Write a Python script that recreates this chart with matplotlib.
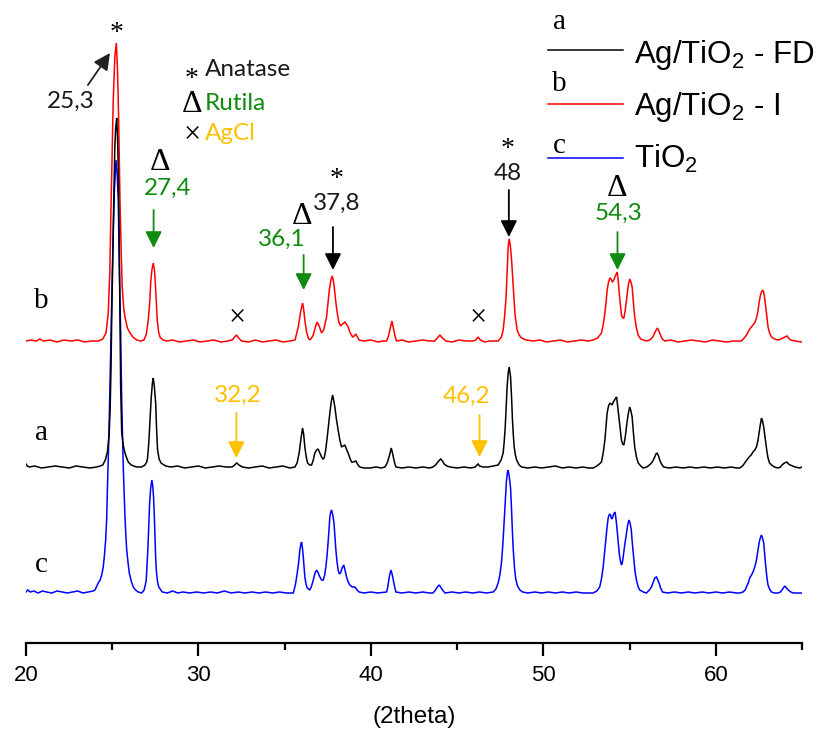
import matplotlib
matplotlib.use("Agg")
import matplotlib.pyplot as plt
from matplotlib.lines import Line2D

plt.rcParams['mathtext.fontset'] = 'custom'
plt.rcParams['mathtext.rm'] = 'Liberation Sans'
plt.rcParams['mathtext.it'] = 'Liberation Sans:italic'
plt.rcParams['mathtext.bf'] = 'Liberation Sans:bold'
plt.rcParams['font.family'] = ['Liberation Sans', 'DejaVu Sans']

# ---------------------------------------------------------------------------
# XRD patterns: (2theta, intensity above the pattern's own baseline)
# ---------------------------------------------------------------------------
pattern_b = [  # Ag/TiO2 - I
    (20.0, 1), (20.3, 2), (20.6, 1), (20.8, 3), (21.0, 1), (21.4, 2), (21.8, 0),
    (22.2, 2), (22.6, 1), (23.0, 2), (23.4, 0), (23.8, 1), (24.2, 1), (24.45, 3),
    (24.64, 9), (24.77, 29), (24.86, 70), (24.93, 135), (25.0, 190), (25.06, 242),
    (25.15, 285), (25.24, 299), (25.31, 270), (25.37, 225), (25.45, 142),
    (25.52, 90), (25.58, 55), (25.66, 35), (25.74, 25), (25.88, 14), (26.03, 9),
    (26.2, 5), (26.42, 2), (26.65, 1), (26.84, 2), (26.98, 8), (27.09, 22),
    (27.17, 38), (27.23, 59), (27.3, 72), (27.38, 79), (27.45, 72), (27.5, 59),
    (27.56, 38), (27.61, 22), (27.69, 10), (27.77, 5), (27.95, 2), (28.16, 1),
    (28.5, 2), (28.9, 0), (29.3, 1), (29.7, 2), (30.1, 0), (30.5, 1), (30.9, 2),
    (31.3, 0), (31.7, 1), (31.95, 2), (32.1, 5), (32.2, 7), (32.33, 4), (32.5, 1),
    (32.9, 0), (33.3, 2), (33.7, 0), (34.1, 1), (34.5, 2), (34.9, 0), (35.3, 1),
    (35.6, 2), (35.79, 15), (35.92, 30), (36.04, 39), (36.1, 33), (36.17, 22),
    (36.27, 10), (36.37, 4), (36.46, 2), (36.56, 4), (36.66, 7), (36.78, 15),
    (36.89, 20), (37.0, 16), (37.14, 9), (37.26, 12), (37.43, 25), (37.52, 40),
    (37.59, 52), (37.68, 62), (37.76, 66), (37.84, 60), (37.91, 49), (37.98, 38),
    (38.05, 29), (38.14, 20), (38.24, 16), (38.36, 18), (38.49, 20), (38.58, 18),
    (38.68, 15), (38.8, 9), (38.94, 5), (39.03, 6), (39.13, 8), (39.22, 5),
    (39.32, 2), (39.6, 1), (40.0, 2), (40.4, 0), (40.7, 1), (40.91, 1), (41.02, 6),
    (41.1, 12), (41.22, 21), (41.33, 12), (41.41, 5), (41.49, 1), (41.8, 2),
    (42.2, 0), (42.6, 1), (43.0, 2), (43.4, 1), (43.7, 1), (43.85, 4), (44.0, 7),
    (44.15, 4), (44.35, 1), (44.7, 0), (45.1, 2), (45.5, 1), (45.9, 1), (46.08, 2),
    (46.22, 5), (46.35, 2), (46.6, 0), (46.9, 1), (47.2, 1), (47.38, 1), (47.57, 5),
    (47.67, 12), (47.75, 25), (47.83, 42), (47.9, 72), (47.96, 95), (48.02, 103),
    (48.09, 96), (48.16, 82), (48.26, 55), (48.35, 29), (48.48, 12), (48.6, 7),
    (48.74, 4), (49.0, 2), (49.4, 1), (49.8, 2), (50.2, 0), (50.6, 1), (51.0, 2),
    (51.4, 0), (51.8, 1), (52.2, 2), (52.6, 1), (52.89, 2), (53.15, 4), (53.37, 9),
    (53.47, 17), (53.57, 29), (53.64, 40), (53.7, 52), (53.78, 60), (53.86, 64),
    (53.93, 63), (53.99, 60), (54.06, 61), (54.13, 64), (54.2, 67), (54.28, 70),
    (54.34, 62), (54.4, 49), (54.47, 37), (54.53, 27), (54.6, 24), (54.67, 24),
    (54.75, 32), (54.82, 42), (54.92, 56), (55.01, 63), (55.08, 60), (55.15, 55),
    (55.22, 40), (55.3, 25), (55.4, 14), (55.5, 7), (55.65, 3), (55.79, 2),
    (56.0, 1), (56.17, 2), (56.35, 5), (56.46, 9), (56.54, 12), (56.62, 14),
    (56.7, 11), (56.79, 7), (56.9, 3), (57.04, 1), (57.4, 2), (57.8, 0), (58.2, 1),
    (58.6, 2), (59.0, 1), (59.4, 0), (59.8, 2), (60.2, 1), (60.6, 0), (61.0, 1),
    (61.3, 1), (61.49, 1), (61.65, 4), (61.78, 7), (61.97, 13), (62.16, 17),
    (62.28, 20), (62.36, 24), (62.44, 30), (62.51, 39), (62.58, 46), (62.65, 50),
    (62.72, 52), (62.78, 50), (62.84, 43), (62.9, 35), (62.97, 24), (63.03, 15),
    (63.12, 9), (63.23, 5), (63.4, 3), (63.61, 2), (63.78, 3), (63.9, 4),
    (64.02, 5), (64.13, 6), (64.23, 4), (64.33, 2), (64.6, 1), (65.0, 0),
]

pattern_a = [  # Ag/TiO2 - FD
    (20.0, 4), (20.08, 2), (20.2, 1), (20.5, 2), (20.9, 0), (21.3, 1), (21.7, 2),
    (22.1, 1), (22.5, 0), (22.9, 2), (23.3, 1), (23.7, 0), (24.1, 1), (24.3, 2),
    (24.45, 3), (24.6, 8), (24.72, 16), (24.82, 33), (24.88, 60), (24.93, 100),
    (24.97, 150), (25.02, 200), (25.08, 260), (25.15, 320), (25.2, 340),
    (25.26, 350), (25.31, 330), (25.36, 290), (25.41, 220), (25.45, 150),
    (25.49, 80), (25.55, 35), (25.65, 22), (25.74, 15), (25.84, 10), (25.93, 6),
    (26.1, 3), (26.4, 1), (26.7, 1), (26.9, 3), (27.0, 6), (27.05, 10),
    (27.12, 25), (27.19, 48), (27.26, 70), (27.33, 85), (27.38, 90), (27.44, 82),
    (27.52, 65), (27.57, 40), (27.63, 18), (27.72, 9), (27.83, 5), (28.1, 2),
    (28.4, 1), (28.8, 2), (29.2, 0), (29.6, 1), (30.0, 2), (30.4, 0), (30.8, 1),
    (31.2, 2), (31.6, 1), (31.95, 1), (32.1, 3), (32.22, 5), (32.35, 3),
    (32.55, 1), (32.9, 0), (33.3, 1), (33.7, 2), (34.1, 0), (34.5, 1), (34.9, 2),
    (35.3, 0), (35.59, 1), (35.72, 5), (35.84, 15), (35.95, 30), (36.04, 40),
    (36.1, 34), (36.17, 21), (36.25, 11), (36.33, 5), (36.45, 3), (36.56, 3),
    (36.66, 8), (36.75, 15), (36.85, 18), (36.94, 19), (37.04, 15), (37.14, 11),
    (37.22, 9), (37.29, 10), (37.38, 18), (37.47, 31), (37.55, 44), (37.62, 55),
    (37.7, 66), (37.78, 73), (37.84, 68), (37.91, 61), (38.0, 49), (38.1, 38),
    (38.2, 28), (38.3, 21), (38.4, 22), (38.49, 23), (38.58, 19), (38.68, 15),
    (38.78, 10), (38.88, 6), (39.0, 6), (39.13, 7), (39.25, 3), (39.36, 1),
    (39.6, 0), (39.94, 0), (40.3, 1), (40.6, 0), (40.81, 1), (40.92, 4), (41.0, 8),
    (41.1, 14), (41.18, 20), (41.24, 16), (41.3, 11), (41.38, 5), (41.45, 1),
    (41.8, 0), (42.2, 1), (42.6, 0), (43.0, 1), (43.4, 0), (43.6, 1), (43.75, 3),
    (43.88, 6), (44.04, 9), (44.15, 7), (44.25, 4), (44.4, 2), (44.6, 1),
    (45.0, 0), (45.4, 1), (45.8, 0), (46.05, 1), (46.15, 3), (46.22, 4),
    (46.3, 2), (46.5, 1), (46.8, 1), (47.1, 2), (47.38, 3), (47.55, 8),
    (47.67, 15), (47.73, 26), (47.79, 41), (47.85, 62), (47.9, 81), (47.96, 95),
    (48.02, 101), (48.1, 91), (48.16, 70), (48.21, 48), (48.26, 33), (48.31, 21),
    (48.38, 13), (48.45, 8), (48.6, 3), (48.74, 1), (49.1, 0), (49.5, 1),
    (49.9, 0), (50.3, 1), (50.7, 2), (51.1, 0), (51.5, 1), (51.9, 0), (52.3, 1),
    (52.6, 0), (52.89, 0), (53.1, 2), (53.25, 4), (53.37, 6), (53.47, 15),
    (53.57, 28), (53.64, 42), (53.7, 55), (53.78, 62), (53.86, 65), (53.93, 64),
    (53.99, 63), (54.06, 66), (54.13, 68), (54.2, 70), (54.25, 71), (54.32, 60),
    (54.4, 48), (54.47, 36), (54.53, 28), (54.6, 24), (54.67, 23), (54.75, 31),
    (54.82, 41), (54.92, 54), (55.01, 61), (55.08, 57), (55.15, 51), (55.22, 36),
    (55.3, 21), (55.4, 11), (55.5, 5), (55.65, 2), (55.79, 0), (56.0, 1),
    (56.15, 3), (56.27, 5), (56.38, 8), (56.46, 11), (56.53, 14), (56.6, 15),
    (56.68, 12), (56.75, 8), (56.85, 4), (56.98, 1), (57.3, 0), (57.7, 1),
    (58.1, 0), (58.5, 1), (58.9, 0), (59.3, 1), (59.7, 0), (60.1, 1), (60.5, 0),
    (60.9, 1), (61.2, 0), (61.39, 0), (61.55, 2), (61.68, 5), (61.8, 8),
    (61.93, 11), (62.05, 13), (62.16, 16), (62.26, 18), (62.36, 21), (62.44, 27),
    (62.51, 35), (62.58, 43), (62.65, 50), (62.71, 47), (62.78, 41), (62.84, 33),
    (62.9, 25), (62.97, 16), (63.03, 10), (63.12, 5), (63.23, 3), (63.4, 1),
    (63.61, 0), (63.75, 1), (63.84, 3), (63.98, 5), (64.12, 6), (64.22, 4),
    (64.32, 3), (64.45, 2), (64.6, 1), (64.87, 0), (65.0, 1),
]

pattern_c = [  # TiO2
    (20.0, 1), (20.1, 3), (20.25, 1), (20.45, 2), (20.7, 0), (20.95, 2), (21.2, 1),
    (21.5, 0), (21.8, 2), (22.1, 1), (22.4, 0), (22.7, 1), (23.0, 2), (23.3, 0),
    (23.6, 1), (23.9, 2), (24.0, 3), (24.19, 10), (24.3, 13), (24.39, 18),
    (24.48, 26), (24.55, 38), (24.62, 53), (24.68, 75), (24.73, 110), (24.78, 140),
    (24.83, 176), (24.88, 218), (24.93, 260), (25.0, 315), (25.06, 360),
    (25.13, 405), (25.22, 433), (25.29, 418), (25.35, 393), (25.41, 326),
    (25.49, 260), (25.55, 193), (25.6, 158), (25.64, 126), (25.69, 100),
    (25.74, 76), (25.79, 58), (25.84, 43), (25.92, 30), (25.99, 20), (26.1, 12),
    (26.22, 6), (26.35, 3), (26.51, 1), (26.7, 0), (26.85, 3), (26.97, 12),
    (27.07, 45), (27.17, 90), (27.23, 105), (27.3, 113), (27.35, 107), (27.4, 95),
    (27.44, 78), (27.48, 55), (27.52, 35), (27.57, 20), (27.63, 11), (27.7, 6),
    (27.9, 1), (28.2, 0), (28.5, 2), (28.8, 0), (29.1, 1), (29.5, 0), (29.9, 1),
    (30.3, 0), (30.7, 1), (31.1, 0), (31.5, 2), (31.9, 0), (32.3, 1), (32.7, 0),
    (33.1, 1), (33.5, 0), (33.9, 1), (34.3, 0), (34.7, 1), (35.1, 0), (35.5, 0),
    (35.62, 8), (35.73, 20), (35.82, 32), (35.88, 43), (35.94, 49), (35.98, 51),
    (36.03, 45), (36.08, 36), (36.13, 25), (36.17, 16), (36.24, 9), (36.31, 5),
    (36.46, 3), (36.56, 7), (36.66, 13), (36.76, 20), (36.85, 23), (36.95, 20),
    (37.04, 16), (37.14, 13), (37.24, 13), (37.32, 18), (37.39, 26), (37.46, 38),
    (37.53, 53), (37.58, 66), (37.62, 76), (37.67, 81), (37.72, 83), (37.79, 78),
    (37.86, 70), (37.92, 56), (37.97, 43), (38.03, 32), (38.1, 23), (38.17, 19),
    (38.24, 20), (38.33, 25), (38.43, 28), (38.51, 22), (38.59, 16), (38.68, 11),
    (38.78, 8), (38.92, 6), (39.07, 6), (39.2, 3), (39.32, 1), (39.6, 0),
    (40.0, 1), (40.4, 0), (40.91, 1), (40.97, 5), (41.04, 13), (41.1, 19),
    (41.16, 23), (41.23, 19), (41.3, 13), (41.38, 6), (41.45, 1), (41.8, 0),
    (42.2, 1), (42.6, 0), (43.0, 1), (43.4, 0), (43.6, 0), (43.75, 3), (43.85, 6),
    (43.96, 8), (44.05, 6), (44.15, 3), (44.3, 0), (44.7, 1), (45.1, 0), (45.5, 1),
    (45.9, 0), (46.3, 1), (46.7, 0), (47.09, 1), (47.25, 4), (47.38, 10),
    (47.48, 18), (47.57, 30), (47.65, 48), (47.72, 70), (47.79, 92), (47.86, 112),
    (47.92, 121), (47.96, 123), (48.02, 117), (48.1, 105), (48.16, 82), (48.21, 60),
    (48.26, 42), (48.33, 25), (48.4, 14), (48.5, 7), (48.64, 3), (48.8, 1),
    (49.1, 0), (49.5, 1), (49.9, 0), (50.3, 1), (50.7, 0), (51.1, 1), (51.5, 0),
    (51.9, 1), (52.3, 0), (52.7, 0), (52.89, 0), (53.1, 2), (53.27, 6),
    (53.37, 14), (53.47, 26), (53.55, 40), (53.62, 53), (53.69, 65), (53.76, 75),
    (53.83, 79), (53.9, 78), (53.96, 74), (54.01, 75), (54.08, 79), (54.16, 81),
    (54.22, 73), (54.28, 63), (54.34, 51), (54.4, 40), (54.47, 32), (54.53, 28),
    (54.58, 30), (54.63, 36), (54.72, 48), (54.82, 60), (54.9, 69), (54.97, 73),
    (55.03, 70), (55.1, 63), (55.17, 48), (55.25, 33), (55.32, 21), (55.4, 13),
    (55.5, 6), (55.59, 3), (55.8, 1), (55.98, 0), (56.15, 3), (56.27, 6),
    (56.38, 11), (56.46, 15), (56.56, 16), (56.64, 13), (56.71, 10), (56.8, 5),
    (56.91, 1), (57.2, 0), (57.6, 1), (58.0, 0), (58.4, 1), (58.8, 0), (59.2, 1),
    (59.6, 0), (60.0, 1), (60.4, 0), (60.8, 1), (61.2, 0), (61.39, 0), (61.58, 1),
    (61.7, 3), (61.78, 6), (61.88, 10), (61.97, 15), (62.07, 18), (62.16, 21),
    (62.26, 26), (62.36, 33), (62.44, 42), (62.51, 50), (62.58, 55), (62.65, 58),
    (62.71, 55), (62.78, 50), (62.84, 38), (62.9, 26), (62.97, 15), (63.03, 8),
    (63.12, 4), (63.23, 1), (63.4, 0), (63.61, 0), (63.75, 1), (63.84, 3),
    (63.92, 5), (64.0, 7), (64.1, 5), (64.2, 3), (64.35, 1), (64.5, 0),
    (64.87, 0), (65.0, 0),
]

series_letters = ['b', 'c', 'a']
series_colors = {'a': 'black', 'b': '#ff0000', 'c': '#0000ff'}
series_offsets = {'a': 125, 'b': 251, 'c': 0}
series_names = {'a': r'Ag/TiO$_\mathrm{2}$ - FD',
                'b': r'Ag/TiO$_\mathrm{2}$ - I',
                'c': r'TiO$_\mathrm{2}$'}
patterns = {'a': pattern_a, 'b': pattern_b, 'c': pattern_c}

# labelled reflections
peak_labels = ['25,3', '27,4', '36,1', '37,8', '48', '54,3', '32,2', '46,2']
peak_positions = [25.3, 27.4, 36.1, 37.8, 48.0, 54.3, 32.2, 46.2]

GREEN = '#108a10'
ORANGE = '#ffc000'
W, H = 829, 733

fig = plt.figure(figsize=(W / 100, H / 100), dpi=100)
ax = fig.add_axes([26 / W, 1 - 643 / H, 776 / W, 643 / H])
ax.set_xlim(20, 65)
ax.set_ylim(-50, 593)
for side in ('left', 'right', 'top'):
    ax.spines[side].set_visible(False)
ax.spines['bottom'].set_linewidth(1.6)
ax.set_yticks([])
ax.set_xticks([20, 30, 40, 50, 60])
ax.set_xticks([25, 35, 45, 55, 65], minor=True)
ax.tick_params(axis='x', which='major', length=9.5, width=1.6, pad=6,
               labelsize=16, direction='out')
ax.tick_params(axis='x', which='minor', length=5, width=1.6, direction='out')
ax.set_xlabel('(2theta)', fontsize=17.5, labelpad=15)

for key in series_letters:
    xs = [p[0] for p in patterns[key]]
    ys = [p[1] + series_offsets[key] for p in patterns[key]]
    ax.plot(xs, ys, color=series_colors[key], lw=1.1, solid_joinstyle='miter')

SERIF = ['Liberation Serif', 'DejaVu Serif']
CAL = ['Lato', 'DejaVu Sans']
DELTA_SIZE = 23
CROSS_SIZE = 22


def arrow(x0, y0, x1, y1, color):
    ax.annotate('', xy=(x1, y1), xytext=(x0, y0),
                arrowprops=dict(arrowstyle='-|>,head_length=0.5,head_width=0.25',
                                color=color, lw=1.3, mutation_scale=20,
                                shrinkA=0, shrinkB=0))


# 25,3 anatase main reflection
ax.text(25.28, 559, '*', family=SERIF, fontsize=20, ha='center', va='center')
ax.text(22.61, 492, peak_labels[0], family=CAL, fontsize=17.5, ha='center',
        va='center', color='#1a1a1a')
arrow(23.59, 508, 24.87, 540, '#222222')

# phase key
ax.text(29.62, 514, '*', family=SERIF, fontsize=20, ha='center', va='center')
ax.text(30.38, 523, 'Anatase', family=CAL, fontsize=17.5, ha='left',
        va='center', color='#1a1a1a')
ax.text(29.62, 488, 'Δ', family=SERIF, fontsize=DELTA_SIZE, ha='center',
        va='center')
ax.text(30.38, 490, 'Rutila', family=CAL, fontsize=17.5, ha='left', va='center',
        color=GREEN)
ax.text(29.62, 458, '×', family=SERIF, fontsize=CROSS_SIZE, ha='center',
        va='center')
ax.text(30.38, 460, 'AgCl', family=CAL, fontsize=17.5, ha='left', va='center',
        color=ORANGE)

# rutile 27,4
ax.text(27.77, 431, 'Δ', family=SERIF, fontsize=DELTA_SIZE, ha='center',
        va='center')
ax.text(28.23, 405, peak_labels[1], family=CAL, fontsize=17.5, ha='center',
        va='center', color=GREEN)
arrow(peak_positions[1], 383, peak_positions[1], 345, GREEN)

# rutile 36,1
ax.text(36.0, 377, 'Δ', family=SERIF, fontsize=DELTA_SIZE, ha='center',
        va='center')
ax.text(34.84, 354, peak_labels[2], family=CAL, fontsize=17.5, ha='center',
        va='center', color=GREEN)
arrow(peak_positions[2], 338, peak_positions[2], 303, GREEN)

# anatase 37,8
ax.text(38.03, 413, '*', family=SERIF, fontsize=20, ha='center', va='center')
ax.text(38.03, 390, peak_labels[3], family=CAL, fontsize=17.5, ha='center',
        va='center', color='#1a1a1a')
arrow(peak_positions[3], 366, peak_positions[3], 323, 'black')

# anatase 48
ax.text(47.94, 443, '*', family=SERIF, fontsize=20, ha='center', va='center')
ax.text(47.94, 420, peak_labels[4], family=CAL, fontsize=17.5, ha='center',
        va='center', color='#1a1a1a')
arrow(peak_positions[4], 403, peak_positions[4], 356, 'black')

# rutile 54,3
ax.text(54.26, 405, 'Δ', family=SERIF, fontsize=DELTA_SIZE, ha='center',
        va='center')
ax.text(54.38, 380, peak_labels[5], family=CAL, fontsize=17.5, ha='center',
        va='center', color=GREEN)
arrow(peak_positions[5], 361, peak_positions[5], 323, GREEN)

# AgCl reflections
ax.text(32.23, 275, '×', family=SERIF, fontsize=CROSS_SIZE, ha='center',
        va='center')
ax.text(46.2, 275, '×', family=SERIF, fontsize=CROSS_SIZE, ha='center',
        va='center')
ax.text(32.29, 198, peak_labels[6], family=CAL, fontsize=17.5, ha='center',
        va='center', color=ORANGE)
arrow(peak_positions[6], 180, peak_positions[6], 135, ORANGE)
ax.text(45.57, 197, peak_labels[7], family=CAL, fontsize=17.5, ha='center',
        va='center', color=ORANGE)
arrow(peak_positions[7] + 0.1, 178, peak_positions[7] + 0.1, 136, ORANGE)

# curve letters
for key, y in (('b', 285), ('a', 153), ('c', 21)):
    ax.text(20.9, y, key, family=SERIF, fontsize=21, ha='center', va='baseline')


def fpx(x, y):
    return x / W, 1 - y / H


# key in the upper right corner
for key, ly, lb, tb in (('a', 50, 29, 63), ('b', 104, 91, 115), ('c', 158, 153, 168)):
    x0, y0 = fpx(548, ly)
    x1, _ = fpx(623, ly)
    fig.add_artist(Line2D([x0, x1], [y0, y0], color=series_colors[key], lw=1.1,
                          transform=fig.transFigure))
    fig.text(*fpx(559.5, lb), key, family=SERIF, fontsize=21, ha='center',
             va='baseline')
    fig.text(*fpx(634, tb), series_names[key], fontsize=22.5, ha='left',
             va='baseline')

fig.savefig('out.png', dpi=100)
